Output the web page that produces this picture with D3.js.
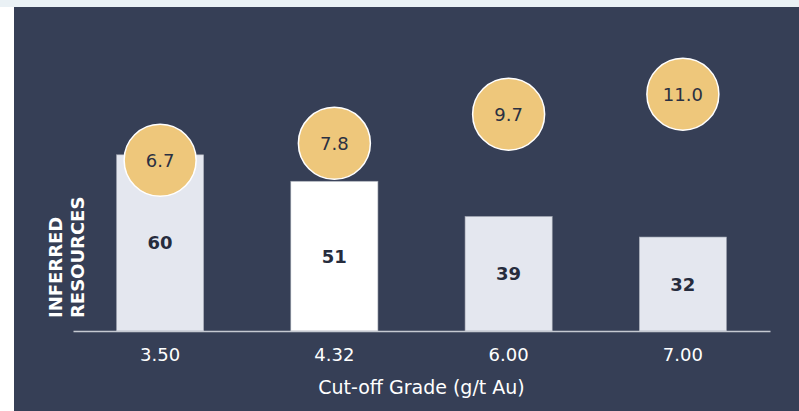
<!DOCTYPE html>
<html>
<head>
<meta charset="utf-8">
<script src="https://cdn.jsdelivr.net/npm/d3@7"></script>
<style>
  html, body { margin: 0; padding: 0; background: #ffffff; }
  svg { display: block; font-family: "DejaVu Sans", Verdana, sans-serif; }
</style>
</head>
<body>
<div id="chart"></div>
<script>
const grades = ["3.50", "4.32", "6.00", "7.00"];
const resources = [60, 51, 39, 32];
const gradeValues = [6.7, 7.8, 9.7, 11.0];
const highlighted = ["4.32"];

const W = 799, H = 411;
const margin = { top: 8, right: 29, bottom: 80, left: 73 };

const svg = d3.select("#chart").append("svg")
  .attr("width", W)
  .attr("height", H);

// background strips + dark panel
svg.append("rect").attr("x", 0).attr("y", 0).attr("width", W).attr("height", 7).attr("fill", "#eaf1f5");
svg.append("rect").attr("x", 14).attr("y", 7).attr("width", W - 14).attr("height", H - 7).attr("fill", "#363f56");

const x = d3.scaleBand()
  .domain(grades)
  .range([margin.left, W - margin.right])
  .paddingInner(0.5)
  .paddingOuter(0.25);

const y = d3.scaleLinear()
  .domain([0, 110])
  .range([H - margin.bottom, margin.top]);

// secondary scale for the grade bubbles
const yGrade = d3.scaleLinear()
  .domain([-4.4, 16.6])
  .range([H - margin.bottom, margin.top]);

const data = grades.map((g, i) => ({ g, r: resources[i], v: gradeValues[i] }));

// bars
svg.selectAll(".bar")
  .data(data)
  .enter()
  .append("rect")
  .attr("class", "bar")
  .attr("x", d => x(d.g))
  .attr("y", d => y(d.r))
  .attr("width", x.bandwidth())
  .attr("height", d => y(0) - y(d.r))
  .attr("fill", d => highlighted.includes(d.g) ? "#ffffff" : "#e4e7ef")
  .attr("stroke", "#a4a9b4")
  .attr("stroke-width", 0.6);

// bar labels
svg.selectAll(".barlabel")
  .data(data)
  .enter()
  .append("text")
  .attr("x", d => x(d.g) + x.bandwidth() / 2)
  .attr("y", d => (y(d.r) + y(0)) / 2)
  .attr("text-anchor", "middle")
  .attr("dominant-baseline", "central")
  .attr("font-size", 18)
  .attr("font-weight", "bold")
  .attr("fill", "#262c3d")
  .text(d => d.r);

// x axis
const xAxis = svg.append("g")
  .attr("transform", `translate(0,${y(0)})`)
  .call(d3.axisBottom(x).tickSize(0).tickPadding(17));
xAxis.select(".domain").attr("stroke", "#c5c9d1").attr("stroke-width", 1.5);
xAxis.selectAll("text")
  .attr("font-family", "DejaVu Sans, sans-serif")
  .attr("font-size", 18)
  .attr("fill", "#ffffff");

svg.append("text")
  .attr("x", (margin.left + W - margin.right) / 2)
  .attr("y", 394)
  .attr("text-anchor", "middle")
  .attr("font-size", 19)
  .attr("fill", "#ffffff")
  .text("Cut-off Grade (g/t Au)");

// y title, two lines
const yTitle = svg.append("text")
  .attr("transform", "translate(62,318) rotate(-90)")
  .attr("font-size", 18)
  .attr("font-weight", "bold")
  .attr("fill", "#ffffff");
yTitle.append("tspan").attr("x", 0).attr("y", 0).text("INFERRED");
yTitle.append("tspan").attr("x", 0).attr("y", 22).text("RESOURCES");

// grade bubbles
svg.selectAll(".bubble")
  .data(data)
  .enter()
  .append("circle")
  .attr("cx", d => x(d.g) + x.bandwidth() / 2)
  .attr("cy", d => yGrade(d.v))
  .attr("r", 36)
  .attr("fill", "#eec77b")
  .attr("stroke", "#ffffff")
  .attr("stroke-width", 1.5);

svg.selectAll(".bubblelabel")
  .data(data)
  .enter()
  .append("text")
  .attr("x", d => x(d.g) + x.bandwidth() / 2)
  .attr("y", d => yGrade(d.v))
  .attr("text-anchor", "middle")
  .attr("dominant-baseline", "central")
  .attr("font-size", 18)
  .attr("fill", "#2a3042")
  .text(d => d.v.toFixed(1));
</script>
</body>
</html>
